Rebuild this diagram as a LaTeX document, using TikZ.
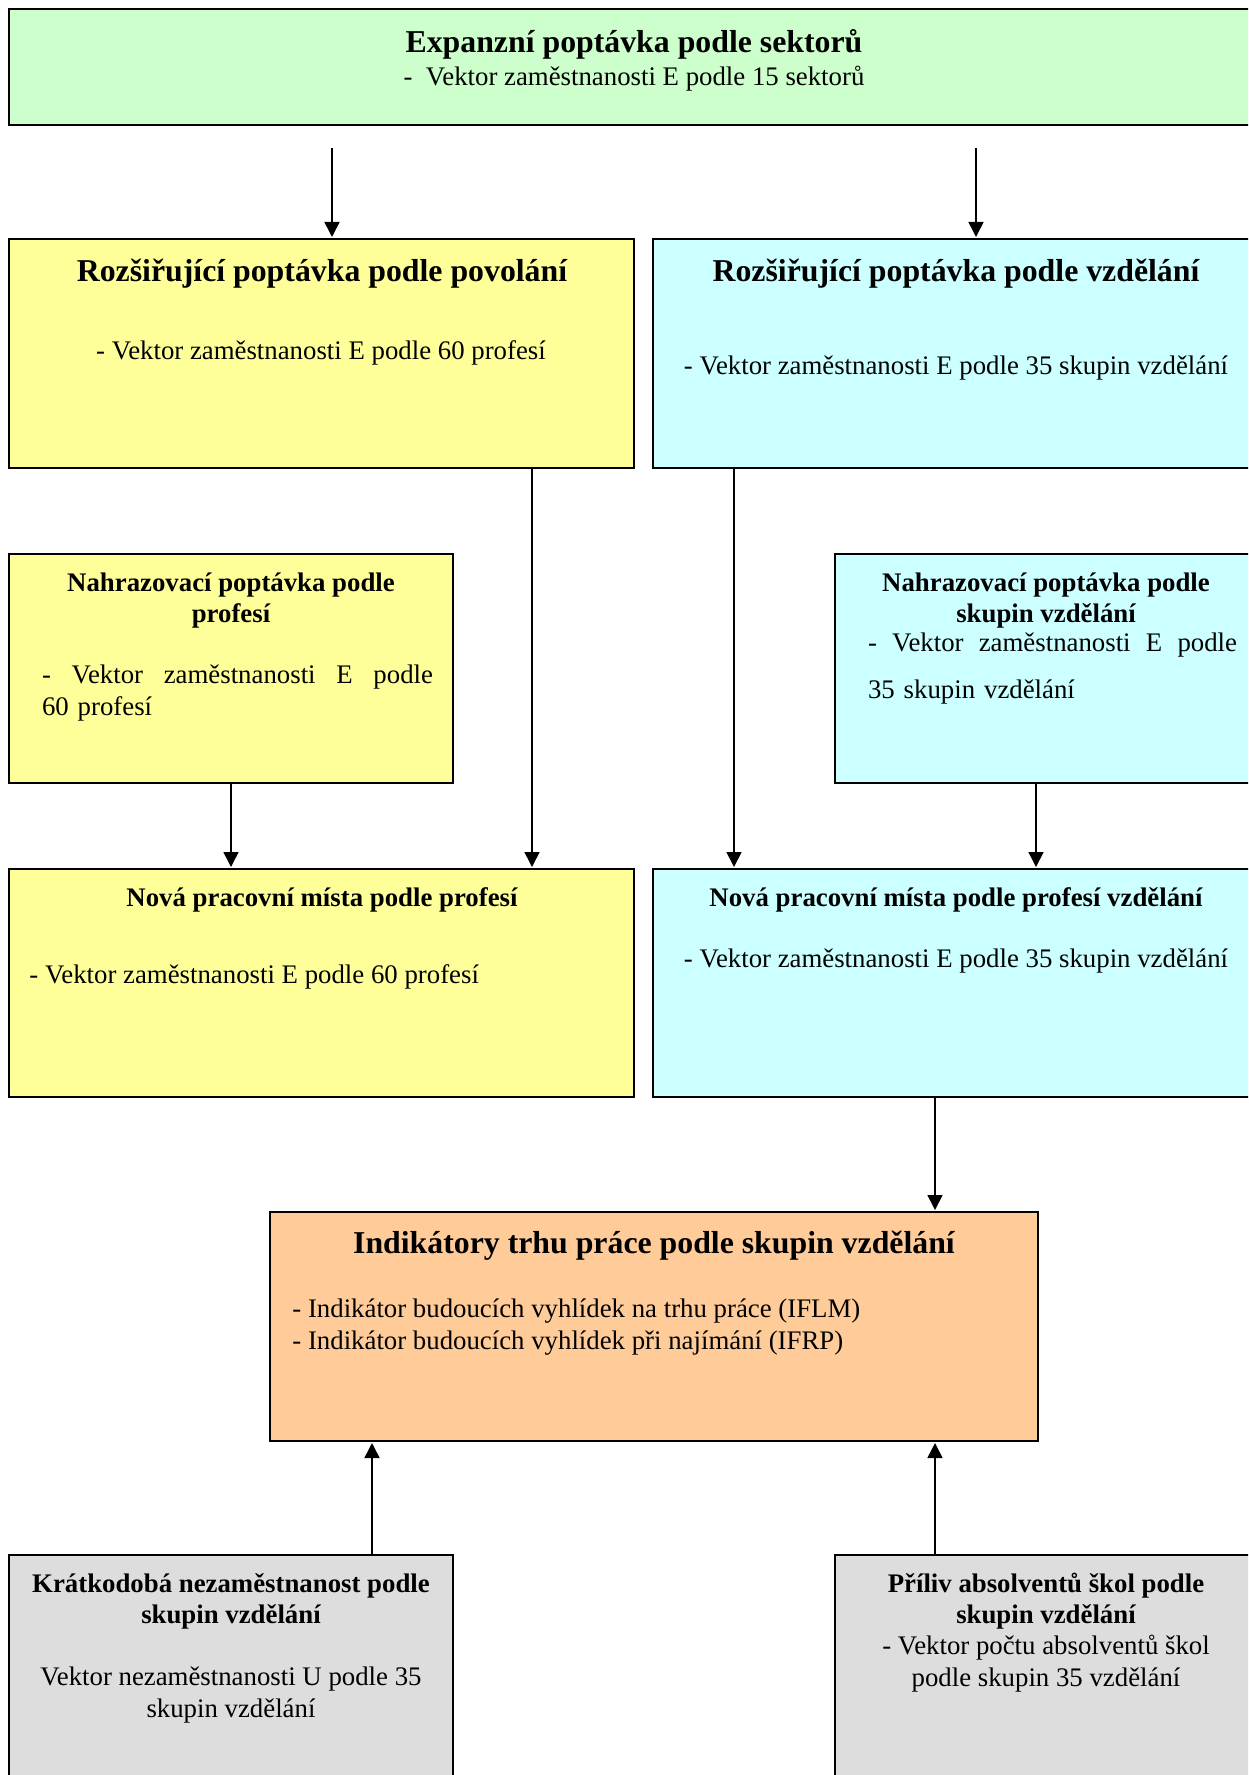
\documentclass[tikz,border=0pt]{standalone}
\usepackage{fontspec}
\setmainfont{Liberation Serif}
\usetikzlibrary{arrows.meta}

\definecolor{sectgreen}{HTML}{CCFFCC}
\definecolor{occyellow}{HTML}{FFFF99}
\definecolor{educyan}{HTML}{CCFFFF}
\definecolor{indorange}{HTML}{FFCC99}
\definecolor{supgrey}{HTML}{DDDDDD}

\begin{document}
\begin{tikzpicture}[x=0.5pt, y=-0.5pt,
      >={Triangle[length=7.5pt,width=7.5pt]},
      box/.style={draw, line width=1.3pt, anchor=north west, inner sep=0pt, outer sep=0pt, minimum height=114.5pt},
      bighead/.style={font=\bfseries\fontsize{15.9}{17}\selectfont, inner sep=0pt, yshift=-1.25pt},
      head/.style={font=\bfseries\fontsize{13.4}{15.5}\selectfont, align=center, inner sep=0pt, yshift=-1.25pt},
      body/.style={font=\fontsize{13.4}{16}\selectfont, inner sep=0pt, yshift=-1.25pt},
      link/.style={->, line width=0.8pt, shorten >=1pt}]
      \useasboundingbox (0,0) rectangle (1248,1775);
      \clip (0,0) rectangle (1248,1775);
      % boxes
      \node[box, fill=sectgreen, minimum width=625pt, minimum height=58pt] (sect) at (9,9) {};
      \node[box, fill=occyellow, minimum width=312.5pt] (expocc) at (9,239) {};
      \node[box, fill=educyan, minimum width=302.5pt] (expedu) at (653,239) {};
      \node[box, fill=occyellow, minimum width=222pt] (repocc) at (9,554) {};
      \node[box, fill=educyan, minimum width=211.5pt] (repedu) at (835,554) {};
      \node[box, fill=occyellow, minimum width=312.5pt, minimum height=114pt] (newocc) at (9,869) {};
      \node[box, fill=educyan, minimum width=302.5pt, minimum height=114pt] (newedu) at (653,869) {};
      \node[box, fill=indorange, minimum width=384pt] (ind) at (270,1212) {};
      \node[box, fill=supgrey, minimum width=222pt] (unemp) at (9,1555) {};
      \node[box, fill=supgrey, minimum width=211.5pt] (grad) at (835,1555) {};
      % texts
      \node[bighead] (sect-h) at (634,42) {Expanzní poptávka podle sektorů};
      \node[body] (sect-b) at (634,76) {-\ \ Vektor zaměstnanosti E podle 15 sektorů};
      \node[bighead] (expocc-h) at (322,271) {Rozšiřující poptávka podle povolání};
      \node[body] (expocc-b) at (321,350) {- Vektor zaměstnanosti E podle 60 profesí};
      \node[bighead] (expedu-h) at (956,271) {Rozšiřující poptávka podle vzdělání};
      \node[body] (expedu-b) at (956,366) {- Vektor zaměstnanosti E podle 35 skupin vzdělání};
      \node[head] (repocc-h) at (231,598) {Nahrazovací poptávka podle\\profesí};
      \node[body, text width=195.5pt, align=left] (repocc-b) at (237.5,691)
            {-\hfill Vektor\hfill zaměstnanosti\hfill E\hfill podle\\60 profesí};
      \node[head] (repedu-h) at (1046,598) {Nahrazovací poptávka podle\\skupin vzdělání};
      \node[body, text width=184.5pt, align=left, font=\fontsize{13.4}{23.5}\selectfont] (repedu-b) at (1052.5,666.5)
            {-\hfill Vektor\hfill zaměstnanosti\hfill E\hfill podle\\35 skupin vzdělání};
      \node[head] (newocc-h) at (322,897) {Nová pracovní místa podle profesí};
      \node[body, anchor=west] (newocc-b) at (29,974) {- Vektor zaměstnanosti E podle 60 profesí};
      \node[head] (newedu-h) at (956,897) {Nová pracovní místa podle profesí vzdělání};
      \node[body] (newedu-b) at (956,959) {- Vektor zaměstnanosti E podle 35 skupin vzdělání};
      \node[bighead] (ind-h) at (654,1243) {Indikátory trhu práce podle skupin vzdělání};
      \node[body, anchor=west, align=left] (ind-b) at (292,1325)
            {- Indikátor budoucích vyhlídek na trhu práce (IFLM)\\- Indikátor budoucích vyhlídek při najímání (IFRP)};
      \node[head] (unemp-h) at (231,1599) {Krátkodobá nezaměstnanost podle\\skupin vzdělání};
      \node[body, align=center] (unemp-b) at (231,1693) {Vektor nezaměstnanosti U podle 35\\skupin vzdělání};
      \node[head] (grad-h) at (1046,1599) {Příliv absolventů škol podle\\skupin vzdělání};
      \node[body, align=center] (grad-b) at (1046,1661.5) {- Vektor počtu absolventů škol\\podle skupin 35 vzdělání};
      % connectors
      \coordinate (fork1) at (332,148);
      \coordinate (fork2) at (976,148);
      \draw[link] (fork1) -- (fork1 |- expocc.north);
      \draw[link] (fork2) -- (fork2 |- expedu.north);
      \draw[link] ([xshift=105.25pt]expocc.south) -- ([xshift=105.25pt]newocc.north);
      \draw[link] ([xshift=-110.75pt]expedu.south) -- ([xshift=-110.75pt]newedu.north);
      \draw[link] (repocc.south) -- (repocc.south |- newocc.north);
      \draw[link] ([xshift=-5.25pt]repedu.south) -- ([xshift=40.25pt]newedu.north);
      \draw[link] ([xshift=-10.25pt]newedu.south) -- ([xshift=140.5pt]ind.north);
      \draw[link] ([xshift=70.5pt]unemp.north) -- ([xshift=-141pt]ind.south);
      \draw[link] ([xshift=-55.75pt]grad.north) -- ([xshift=140.5pt]ind.south);
   \end{tikzpicture}
\end{document}
